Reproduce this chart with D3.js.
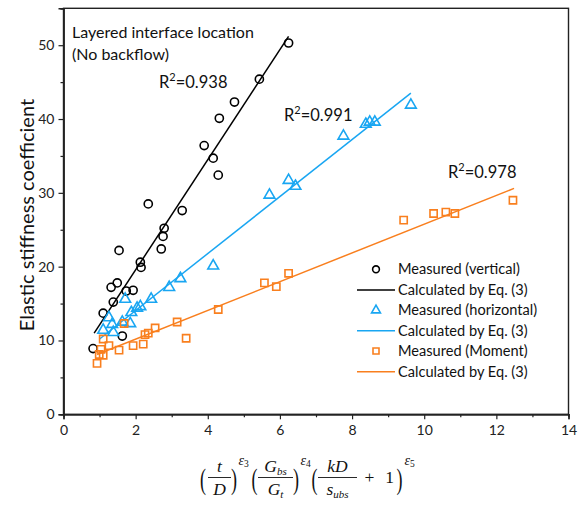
<!DOCTYPE html>
<html><head><meta charset="utf-8">
<script src="https://cdn.jsdelivr.net/npm/d3@7"></script>
<style>body{margin:0;background:#fff} svg{display:block}</style>
</head><body><svg id="c" width="578" height="508"></svg>
<script>
// ---- data ----
const verticalX = [6.24,5.43,4.74,4.32,3.90,4.15,4.29,2.35,3.29,2.79,2.76,2.71,1.54,2.13,2.15,1.32,1.49,1.74,1.93,1.38,1.10,1.63,0.82];
const verticalY = [50.3,45.4,42.3,40.1,36.4,34.7,32.4,28.5,27.6,25.2,24.1,22.4,22.2,20.6,19.9,17.2,17.8,16.7,16.8,15.2,13.7,10.6,8.9];
const horizontalX = [9.63,8.63,8.49,8.38,7.76,6.24,6.43,5.71,4.15,3.24,2.93,2.43,2.13,2.04,1.71,1.88,1.85,1.63,1.26,1.35,1.10,1.38];
const horizontalY = [41.9,39.6,39.6,39.3,37.7,31.7,30.9,29.7,20.1,18.4,17.2,15.6,14.6,14.4,15.6,13.8,12.3,12.5,13.1,12.2,11.4,11.1];
const momentX = [0.93,0.99,1.10,1.04,1.10,1.26,1.54,1.68,1.93,2.21,2.26,2.35,2.54,3.15,3.40,4.29,5.57,5.90,6.24,9.43,10.26,10.60,10.85,12.46];
const momentY = [6.9,8.1,8.0,8.8,10.2,9.3,8.7,12.3,9.3,9.5,10.8,11.0,11.7,12.5,10.3,14.2,17.8,17.3,19.1,26.3,27.2,27.4,27.2,29.0];
const verticalFitX = [0.85, 6.24];   const verticalFitY = [11.0, 51.2];
const horizontalFitX = [1.0, 9.63];  const horizontalFitY = [10.2, 43.5];
const momentFitX = [0.93, 12.49];    const momentFitY = [8.1, 30.6];
const r2Labels = ["0.938", "0.991", "0.978"];
const legendLabels = ["Measured (vertical)", "Calculated by Eq. (3)", "Measured (horizontal)", "Calculated by Eq. (3)", "Measured (Moment)", "Calculated by Eq. (3)"];
const xTicks = [0,2,4,6,8,10,12,14];
const yTicks = [0,10,20,30,40,50];
const yLabel = "Elastic stiffness coefficient";
const noteLines = ["Layered interface location", "(No backflow)"];

// ---- drawing ----
const svg = d3.select("#c");
const font = "Lato, 'Open Sans', sans-serif";
const L = 63.5, R = 568.5, T = 8.3, B = 414.3;
const x = d3.scaleLinear().domain([0,14]).range([L,R]);
const y = d3.scaleLinear().domain([0,55]).range([B,T]);
const colors = ["#000000", "#19A6F2", "#F97F1E"];

// axes
const xMinor = d3.range(1,14,2);
const yMinor = d3.range(5,56,10);
const gx = svg.append("g").attr("transform", `translate(0,${B})`)
  .call(d3.axisBottom(x).tickValues(xTicks).tickSize(5).tickPadding(6).tickFormat(d3.format("d")));
const gxm = svg.append("g").attr("transform", `translate(0,${B})`)
  .call(d3.axisBottom(x).tickValues(xMinor).tickSize(3).tickFormat(""));
const gy = svg.append("g").attr("transform", `translate(${L},0)`)
  .call(d3.axisLeft(y).tickValues(yTicks).tickSize(5).tickPadding(4).tickFormat(d3.format("d")));
const gym = svg.append("g").attr("transform", `translate(${L},0)`)
  .call(d3.axisLeft(y).tickValues(yMinor).tickSize(3).tickFormat(""));
[gx,gxm,gy,gym].forEach(g => {
  g.selectAll("path.domain").attr("stroke", "#222").attr("stroke-width", 1.4);
  g.selectAll(".tick line").attr("stroke", "#222").attr("stroke-width", 1.2);
  g.selectAll(".tick text").attr("font-family", font).attr("font-size", 14).attr("fill", "#222");
});
svg.append("rect").attr("x", L).attr("y", T).attr("width", R-L).attr("height", B-T)
  .attr("fill", "none").attr("stroke", "#222").attr("stroke-width", 1.4);

// fit lines
const fits = [[verticalFitX, verticalFitY],[horizontalFitX, horizontalFitY],[momentFitX, momentFitY]];
const line = d3.line().x(d => x(d[0])).y(d => y(d[1]));
fits.forEach((f,i) => {
  svg.append("path").attr("d", line(d3.zip(f[0], f[1])))
    .attr("fill","none").attr("stroke", colors[i]).attr("stroke-width", 1.5);
});

// markers
const series = [[verticalX, verticalY],[horizontalX, horizontalY],[momentX, momentY]];
const symbols = [d3.symbol().type(d3.symbolCircle).size(52),
                 d3.symbol().type(d3.symbolTriangle).size(50),
                 d3.symbol().type(d3.symbolSquare).size(52)];
series.forEach((s,i) => {
  svg.append("g").selectAll("path").data(d3.zip(s[0], s[1])).join("path")
    .attr("d", symbols[i]())
    .attr("transform", d => `translate(${x(d[0])},${y(d[1])})`)
    .attr("fill", "none").attr("stroke", colors[i]).attr("stroke-width", 1.6);
});

// annotations
svg.append("text").attr("x", 72).attr("y", 38).attr("font-family", font).attr("font-size", 16).attr("fill","#111").text(noteLines[0]);
svg.append("text").attr("x", 72).attr("y", 60).attr("font-family", font).attr("font-size", 16).attr("fill","#111").text(noteLines[1]);
const r2Pos = [[159,88],[284,121],[448,178]];
r2Labels.forEach((v,i) => {
  const t = svg.append("text").attr("x", r2Pos[i][0]).attr("y", r2Pos[i][1])
    .attr("font-family", font).attr("font-size", 16.5).attr("fill","#111");
  t.append("tspan").text("R");
  t.append("tspan").attr("dy", -7).attr("font-size", 11).text("2");
  t.append("tspan").attr("dy", 7).text("=" + v);
});

// legend
const legendSym = [d3.symbol().type(d3.symbolCircle).size(36),
                   d3.symbol().type(d3.symbolTriangle).size(34),
                   d3.symbol().type(d3.symbolSquare).size(36)];
const legRows = [269.3, 290, 310.3, 330.7, 351, 371.7];
legendLabels.forEach((lab,i) => {
  const c = colors[Math.floor(i/2)];
  const yy = legRows[i];
  if (i % 2 === 0) {
    svg.append("path").attr("d", legendSym[i/2]()).attr("transform", `translate(376,${yy})`)
      .attr("fill","none").attr("stroke", c).attr("stroke-width", 1.6);
  } else {
    svg.append("line").attr("x1", 357).attr("x2", 395).attr("y1", yy).attr("y2", yy)
      .attr("stroke", c).attr("stroke-width", 1.5);
  }
  svg.append("text").attr("x", 398).attr("y", yy + 5).attr("font-family", font)
    .attr("font-size", 14.6).attr("fill", "#111").text(lab);
});

// y label
svg.append("text").attr("transform", "translate(34,215) rotate(-90)").attr("text-anchor","middle")
  .attr("font-family", font).attr("font-size", 20).attr("fill","#111").text(yLabel);

// x label (formula)
const ff = "'Liberation Serif', 'DejaVu Serif', serif";
const fg = svg.append("g").attr("font-family", ff).attr("fill", "#111");
function paren(cx, ch) {
  fg.append("text").attr("transform", `translate(${cx},489) scale(0.6,1)`).attr("text-anchor","middle")
    .attr("font-size", 30).text(ch);
}
function frac(cx, x1, x2, num, den) {
  const n = fg.append("text").attr("x", cx).attr("y", 472).attr("text-anchor","middle").attr("font-size", 17.5).attr("font-style","italic");
  n.append("tspan").text(num[0]);
  if (num[1]) n.append("tspan").attr("dy", 3).attr("font-size", 11).text(num[1]);
  const d = fg.append("text").attr("x", cx).attr("y", 495).attr("text-anchor","middle").attr("font-size", 17.5).attr("font-style","italic");
  d.append("tspan").text(den[0]);
  if (den[1]) d.append("tspan").attr("dy", 3).attr("font-size", 11).text(den[1]);
  fg.append("line").attr("x1", x1).attr("x2", x2).attr("y1", 477.5).attr("y2", 477.5).attr("stroke","#111").attr("stroke-width", 0.9);
}
function eps(x0, sub) {
  const t = fg.append("text").attr("x", x0).attr("y", 465).attr("font-size", 14).attr("font-style","italic");
  t.append("tspan").text("ε");
  t.append("tspan").attr("dy", 2).attr("font-size", 9.5).attr("font-style","normal").text(sub);
}
paren(203, "("); frac(219.5, 208, 231, ["t"], ["D"]); paren(234, ")"); eps(238.5, "3");
paren(254.5, "("); frac(275.5, 258, 293, ["G","bs"], ["G","t"]); paren(296, ")"); eps(300.5, "4");
paren(314.5, "("); frac(337.5, 318, 357, ["kD"], ["s","ubs"]);
fg.append("text").attr("x", 369.5).attr("y", 483).attr("text-anchor","middle").attr("font-size", 17.5).text("+");
fg.append("text").attr("x", 389.5).attr("y", 483).attr("text-anchor","middle").attr("font-size", 17.5).text("1");
paren(399.5, ")"); eps(404.5, "5");
</script></body></html>
